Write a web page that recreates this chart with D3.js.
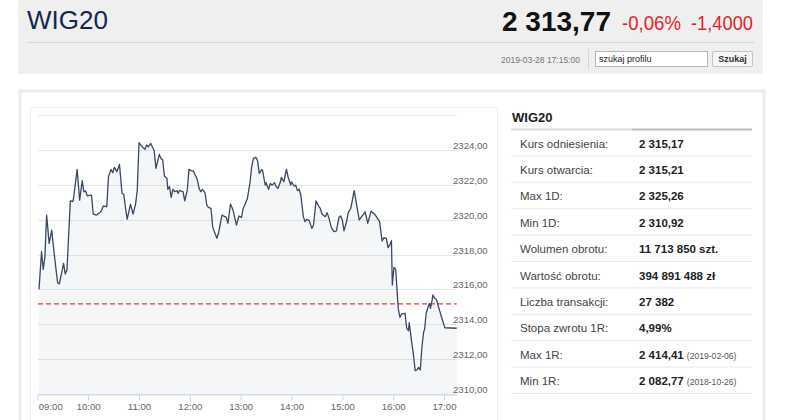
<!DOCTYPE html>
<html>
<head>
<meta charset="utf-8">
<script src="https://cdnjs.cloudflare.com/ajax/libs/d3/7.8.5/d3.min.js"></script>
<style>
body { margin: 0; background: #fff; }
svg { display: block; font-family: "Liberation Sans", Arial, sans-serif; }
</style>
</head>
<body>
<svg id="chart" width="786" height="420"></svg>
<script>
// header numbers
const indexName = "WIG20";
const lastPrice = 2313.77;
const changePct = -0.06;
const changeAbs = -1.4;
const stamp = "2019-03-28 17:15:00";
const refPrice = 2315.17;

// intraday quotes
const times = [
    "09:02","09:05","09:07","09:09","09:11","09:14","09:17","09:21","09:24","09:26",
    "09:31","09:33","09:35","09:39","09:42","09:43","09:47","09:50","09:53","09:55",
    "09:57","09:59","10:04","10:06","10:10","10:15","10:18","10:22","10:24","10:27",
    "10:29","10:31","10:34","10:37","10:40","10:42","10:46","10:50","10:53","10:56",
    "10:58","11:00","11:03",
    "11:07","11:09","11:11","11:14","11:16","11:18","11:20","11:24","11:26","11:28",
    "11:30","11:33","11:34","11:36","11:38","11:40","11:42","11:45","11:46","11:48",
    "11:52","11:54","11:57","11:59","12:02","12:04","12:07","12:09","12:11","12:13",
    "12:15","12:18","12:20","12:22","12:25","12:27","12:29","12:32","12:34","12:36",
    "12:38","12:40","12:43","12:45","12:48","12:51","12:53","12:55","12:58","13:01",
    "13:03",
    "13:05","13:08","13:11","13:13","13:15","13:18","13:20","13:22","13:25","13:26",
    "13:29","13:30","13:33","13:35","13:37","13:40","13:42","13:44","13:47","13:48",
    "13:51","13:54","13:56","13:59","14:00","14:03","14:05","14:07","14:09","14:11",
    "14:14","14:16","14:18","14:21","14:24","14:26","14:29","14:32","14:34","14:36",
    "14:40","14:42","14:44","14:47","14:50","14:53","14:56","14:58","15:00","15:02",
    "15:05","15:07","15:10","15:13","15:14",
    "15:20","15:27","15:30","15:34","15:39","15:44","15:47","15:49","15:52","15:54",
    "15:56","15:58","15:59","16:01","16:03","16:06","16:08","16:10","16:14","16:16",
    "16:18","16:19","16:21","16:24","16:26","16:28","16:30","16:32","16:34","16:36",
    "16:37","16:39","16:41","16:43","16:44","16:46","16:47","16:49","16:51","16:52",
    "16:57","17:01","17:15"
];
const quotes = [
    2316.00,2318.16,2317.15,2317.87,2320.26,2318.64,2319.40,2317.59,2316.38,2316.31,
    2317.49,2316.88,2317.11,2321.08,2321.03,2321.31,2322.88,2321.12,2322.23,2321.60,
    2321.64,2321.37,2321.41,2320.32,2320.26,2320.45,2320.78,2320.74,2322.46,2322.88,
    2322.69,2323.00,2322.75,2323.17,2321.51,2321.45,2320.02,2320.89,2320.32,2320.89,
    2321.70,2324.41,2324.22,
    2324.03,2324.28,2324.18,2324.37,2324.15,2323.95,2322.94,2323.74,2323.51,2323.42,
    2322.50,2322.37,2321.74,2321.89,2321.28,2321.74,2321.60,2321.66,2321.51,2321.66,
    2321.60,2321.08,2321.70,2322.88,2322.80,2322.80,2322.50,2322.27,2321.79,2321.60,
    2321.74,2321.54,2320.84,2320.70,2320.65,2319.59,2319.31,2318.93,2319.25,2319.75,
    2320.26,2320.21,2320.13,2319.79,2320.89,2320.55,2320.13,2319.69,2320.21,2320.13,
    2320.65,
    2320.84,2321.22,2322.12,2323.03,2323.51,2323.57,2323.38,2322.65,2322.88,2322.80,
    2321.98,2322.12,2321.74,2322.08,2321.98,2322.12,2321.89,2321.79,2322.17,2322.42,
    2322.17,2322.88,2322.46,2321.98,2322.17,2321.93,2321.98,2321.66,2321.74,2321.41,
    2320.17,2319.88,2320.02,2319.94,2319.50,2319.69,2321.08,2320.78,2320.65,2320.32,
    2320.17,2320.40,2320.13,2319.56,2319.31,2319.36,2320.13,2320.21,2319.98,2319.36,
    2319.88,2320.40,2320.65,2321.41,2321.66,
    2319.98,2320.45,2319.79,2320.49,2320.26,2319.88,2318.77,2318.96,2318.93,2318.39,
    2318.54,2318.79,2316.25,2317.26,2317.15,2314.91,2314.40,2314.59,2314.63,2313.77,
    2313.63,2314.09,2313.29,2312.24,2311.34,2311.38,2311.53,2311.38,2312.71,2313.57,
    2313.67,2314.63,2314.97,2315.20,2314.91,2315.39,2315.68,2315.49,2315.43,2315.24,
    2314.43,2313.80,2313.77
];

// side table
const statLabels = ["Kurs odniesienia:", "Kurs otwarcia:", "Max 1D:", "Min 1D:", "Wolumen obrotu:",
    "Wartość obrotu:", "Liczba transakcji:", "Stopa zwrotu 1R:", "Max 1R:", "Min 1R:"];
const statValues = ["2 315,17", "2 315,21", "2 325,26", "2 310,92", "11 713 850 szt.",
    "394 891 488 zł", "27 382", "4,99%", "2 414,41", "2 082,77"];
const statNotes = ["", "", "", "", "", "", "", "", "(2019-02-06)", "(2018-10-26)"];

const pl = d3.formatLocale({decimal: ",", thousands: " ", grouping: [3], currency: ["", ""], minus: "-"});
const fmtPrice = pl.format(",.2f");
const fmtTick = pl.format(".2f");

let svg = d3.select("#chart");

// ---- header strip
svg.append("rect").attr("x", 18).attr("y", 0).attr("width", 745).attr("height", 74).attr("fill", "#efefef");
svg.append("text").attr("x", 27).attr("y", 29).text(indexName)
    .attr("font-size", 26).attr("fill", "#15284b");
svg.append("text").attr("x", 502).attr("y", 31).text(fmtPrice(lastPrice))
    .attr("font-size", 28).attr("font-weight", "bold").attr("fill", "#111")
    .attr("textLength", 109).attr("lengthAdjust", "spacingAndGlyphs");
svg.append("text").attr("x", 622).attr("y", 30).text(pl.format(".2f")(changePct) + "%")
    .attr("font-size", 20).attr("fill", "#ee1c25")
    .attr("textLength", 59).attr("lengthAdjust", "spacingAndGlyphs");
svg.append("text").attr("x", 691).attr("y", 30).text(pl.format(".4f")(changeAbs))
    .attr("font-size", 20).attr("fill", "#ee1c25")
    .attr("textLength", 62).attr("lengthAdjust", "spacingAndGlyphs");
svg.append("line").attr("x1", 27).attr("x2", 754).attr("y1", 42.5).attr("y2", 42.5).attr("stroke", "#d6d6d6");
svg.append("text").attr("x", 501).attr("y", 63).text(stamp)
    .attr("font-size", 8.5).attr("fill", "#777")
    .attr("textLength", 79).attr("lengthAdjust", "spacingAndGlyphs");
svg.append("line").attr("x1", 588.5).attr("x2", 588.5).attr("y1", 49).attr("y2", 70).attr("stroke", "#d8d8d8");
svg.append("rect").attr("x", 595.5).attr("y", 51.5).attr("width", 112).attr("height", 15)
    .attr("fill", "#fff").attr("stroke", "#b5b5b5");
svg.append("text").attr("x", 599).attr("y", 62).text("szukaj profilu").attr("font-size", 9).attr("fill", "#222");
svg.append("rect").attr("x", 712.5).attr("y", 51.5).attr("width", 40).attr("height", 15).attr("rx", 1.5)
    .attr("fill", "#f6f6f6").attr("stroke", "#c4c4c4");
svg.append("text").attr("x", 732.5).attr("y", 62).attr("text-anchor", "middle").text("Szukaj")
    .attr("font-size", 9).attr("font-weight", "bold").attr("fill", "#333");

// ---- panel frames
svg.append("rect").attr("x", 20).attr("y", 91).attr("width", 744).attr("height", 340)
    .attr("fill", "none").attr("stroke", "#ececec").attr("stroke-width", 3);
svg.append("rect").attr("x", 30.5).attr("y", 107.5).attr("width", 467).attr("height", 330)
    .attr("fill", "#fff").attr("stroke", "#efefef");

// ---- chart
const parseT = d3.timeParse("%Y-%m-%d %H:%M");
const day = "2019-03-28 ";
const series = times.map((t, i) => ({date: parseT(day + t), value: quotes[i]}));

const plot = {left: 37.3, right: 456.7, top: 115, bottom: 394};
const x = d3.scaleTime()
    .domain([parseT(day + "09:00"), parseT(day + "17:15")])
    .range([plot.left, plot.right]);
const y = d3.scaleLinear()
    .domain([2310, 2326])
    .range([plot.bottom, plot.top]);

let grid = svg.append("g");
grid.selectAll("line").data(y.ticks(8)).enter().append("line")
    .attr("x1", 38).attr("x2", plot.right)
    .attr("y1", d => Math.round(y(d)) + 0.5).attr("y2", d => Math.round(y(d)) + 0.5)
    .attr("stroke", "#e6e6e6");

let area = d3.area().x(d => x(d.date)).y0(y(2310)).y1(d => y(d.value));
let line = d3.line().x(d => x(d.date)).y(d => y(d.value));

svg.append("path").datum(series).attr("d", area).attr("fill", "#2f4a7a").attr("fill-opacity", 0.05);

grid.selectAll("text").data(y.ticks(8).filter(d => d < 2326)).enter().append("text")
    .attr("x", 453).attr("y", d => y(d) - 1)
    .text(d => fmtTick(d))
    .attr("font-size", 9.6).attr("fill", "#666");

svg.append("line")
    .attr("x1", 38).attr("x2", plot.right)
    .attr("y1", y(refPrice)).attr("y2", y(refPrice))
    .attr("stroke", "#ff2e2e").attr("stroke-width", 1.1).attr("stroke-dasharray", "5,3");

svg.append("path").datum(series).attr("d", line)
    .attr("fill", "none").attr("stroke", "#3a4862").attr("stroke-width", 1.3)
    .attr("stroke-linejoin", "round");

let xAxis = d3.axisBottom(x)
    .ticks(d3.timeHour.every(1))
    .tickFormat(d3.timeFormat("%H:%M"))
    .tickSizeInner(6).tickSizeOuter(0).tickPadding(3);
let gX = svg.append("g").attr("transform", "translate(0," + (plot.bottom + 0.5) + ")").call(xAxis);
gX.select(".domain").attr("stroke", "#ccd6eb");
gX.selectAll(".tick line").attr("stroke", "#ccd6eb");
gX.selectAll(".tick text").attr("fill", "#666").attr("font-size", 9.6)
    .attr("font-family", "Liberation Sans, Arial, sans-serif");
gX.selectAll(".tick text").filter((d, i) => i == 0).attr("text-anchor", "start").attr("dx", "0.1em");

// ---- side table
const tx = 511, tw = 241, rowH = 26.4, rowTop = 130;
svg.append("text").attr("x", 512).attr("y", 122).text(indexName)
    .attr("font-size", 13).attr("font-weight", "bold").attr("fill", "#222");
svg.append("line").attr("x1", tx).attr("x2", 632).attr("y1", 129.5).attr("y2", 129.5)
    .attr("stroke", "#d8d8d8").attr("stroke-width", 2);
svg.append("line").attr("x1", 632).attr("x2", tx + tw).attr("y1", 129.5).attr("y2", 129.5)
    .attr("stroke", "#bcbcbc").attr("stroke-width", 2);

let rows = svg.selectAll("g.row").data(statLabels).enter().append("g")
    .attr("class", "row")
    .attr("transform", (d, i) => "translate(0," + (rowTop + i * rowH) + ")");
rows.append("line").attr("x1", tx).attr("x2", tx + tw)
    .attr("y1", rowH - 0.5).attr("y2", rowH - 0.5).attr("stroke", "#e9e9e9");
rows.append("text").attr("x", 520).attr("y", rowH / 2 + 4.5).text(d => d)
    .attr("font-size", 11.5).attr("fill", "#444");
rows.append("text").attr("x", 639).attr("y", rowH / 2 + 4.5)
    .attr("font-size", 11.5).attr("font-weight", "bold").attr("fill", "#222")
    .text((d, i) => statValues[i])
    .append("tspan").attr("font-size", 8.6).attr("font-weight", "normal").attr("fill", "#555")
    .attr("dx", 3).text((d, i) => statNotes[i]);
</script>
</body>
</html>
